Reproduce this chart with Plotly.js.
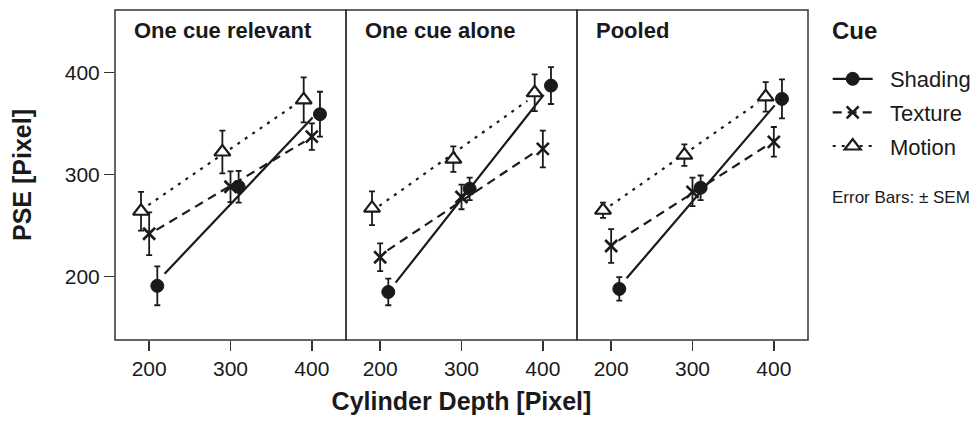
<!DOCTYPE html>
<html>
<head>
<meta charset="utf-8">
<script src="https://cdn.plot.ly/plotly-3.0.1.min.js"></script>
<style>html,body{margin:0;padding:0;background:#fff;}#chart{width:977px;height:424px;}</style>
</head>
<body>
<div id="chart"></div>
<script>
// ---- data ----
const depths = [200, 300, 400];
const cues = ['Shading', 'Texture', 'Motion'];
const panelTitles = ['One cue relevant', 'One cue alone', 'Pooled'];

const relevantShading = [191, 288, 359];
const relevantShadingSEM = [19, 15.5, 22];
const relevantTexture = [242, 288, 337];
const relevantTextureSEM = [21, 15, 13];
const relevantMotion = [264, 322, 373];
const relevantMotionSEM = [19, 21, 22];

const aloneShading = [185, 286, 387];
const aloneShadingSEM = [13, 11, 18];
const aloneTexture = [219, 278, 325];
const aloneTextureSEM = [13.5, 12, 18];
const aloneMotion = [267, 315, 380];
const aloneMotionSEM = [16.5, 12.5, 18];

const pooledShading = [188, 287, 374];
const pooledShadingSEM = [11.5, 12, 19];
const pooledTexture = [230, 283, 332];
const pooledTextureSEM = [16.5, 14, 14.5];
const pooledMotion = [265, 319, 376];
const pooledMotionSEM = [7.5, 10.5, 14.5];

// ---- styles ----
const ink = '#1a1a1a';
const fontFam = '"Liberation Sans", Arial, Helvetica, sans-serif';
const dodge = {Shading: 10, Texture: 0, Motion: -10};
const lineStyle = {
  Shading: {color: ink, width: 2.2, dash: 'solid'},
  Texture: {color: ink, width: 2.2, dash: '9px,6px'},
  Motion:  {color: ink, width: 2.2, dash: '3px,6px'}
};
const markerStyle = {
  Shading: {symbol: 'circle', size: 13, color: ink, line: {color: ink, width: 1}},
  Texture: {symbol: 'x-thin-open', size: 12, color: ink, line: {color: ink, width: 2.6}},
  Motion:  {symbol: 'triangle-up', size: 14, color: '#ffffff', line: {color: ink, width: 2.2}}
};
const gapUnits = 9;
const nb = '\u00a0\u00a0';

const panels = [
  {title: panelTitles[0], xa: 'x',  data: {Shading: [relevantShading, relevantShadingSEM], Texture: [relevantTexture, relevantTextureSEM], Motion: [relevantMotion, relevantMotionSEM]}},
  {title: panelTitles[1], xa: 'x2', data: {Shading: [aloneShading, aloneShadingSEM], Texture: [aloneTexture, aloneTextureSEM], Motion: [aloneMotion, aloneMotionSEM]}},
  {title: panelTitles[2], xa: 'x3', data: {Shading: [pooledShading, pooledShadingSEM], Texture: [pooledTexture, pooledTextureSEM], Motion: [pooledMotion, pooledMotionSEM]}}
];

function fit(xs, ys) {
  const n = xs.length;
  const mx = xs.reduce((a, b) => a + b, 0) / n;
  const my = ys.reduce((a, b) => a + b, 0) / n;
  let sxy = 0, sxx = 0;
  for (let i = 0; i < n; i++) { sxy += (xs[i] - mx) * (ys[i] - my); sxx += (xs[i] - mx) ** 2; }
  const b = sxy / sxx;
  return x => my + b * (x - mx);
}

const traces = [];
panels.forEach(p => {
  cues.forEach(c => {
    const [ys, sem] = p.data[c];
    const xs = depths.map(d => d + dodge[c]);
    const f = fit(xs, ys);
    const x0 = xs[0] + gapUnits, x1 = xs[xs.length - 1] - gapUnits;
    traces.push({
      type: 'scatter', mode: 'lines', x: [x0, x1], y: [f(x0), f(x1)],
      xaxis: p.xa, yaxis: 'y', line: lineStyle[c], showlegend: false, hoverinfo: 'skip'
    });
  });
  cues.forEach(c => {
    const [ys, sem] = p.data[c];
    const xs = depths.map(d => d + dodge[c]);
    traces.push({
      type: 'scatter', mode: 'markers', x: xs, y: ys,
      xaxis: p.xa, yaxis: 'y', marker: markerStyle[c], showlegend: false,
      error_y: {type: 'data', array: sem, visible: true, color: ink, thickness: 1.8, width: 3}
    });
  });
});
// legend entries
cues.forEach(c => {
  traces.push({
    type: 'scatter', mode: 'lines+markers', x: [null], y: [null], name: nb + c, legendgroup: c,
    xaxis: 'x', yaxis: 'y', line: lineStyle[c], marker: markerStyle[c], showlegend: true
  });
});

const xBase = {
  range: [158, 442], tickvals: depths, ticktext: depths.map(String), ticks: 'outside', ticklen: 10, tickwidth: 1.5,
  tickcolor: '#333', showgrid: false, zeroline: false, showline: false, anchor: 'y',
  tickfont: {family: fontFam, size: 21, color: ink}, fixedrange: true
};
const layout = {
  width: 977, height: 424,
  margin: {l: 115, r: 169, t: 10, b: 84, autoexpand: false},
  paper_bgcolor: '#fff', plot_bgcolor: '#fff',
  font: {family: fontFam, color: ink},
  xaxis: Object.assign({}, xBase, {domain: [0, 1/3]}),
  xaxis2: Object.assign({}, xBase, {domain: [1/3, 2/3],
    title: {text: '<b>Cylinder Depth [Pixel]</b>', font: {family: fontFam, size: 25, color: ink}, standoff: 13}}),
  xaxis3: Object.assign({}, xBase, {domain: [2/3, 1]}),
  yaxis: {
    range: [138, 461], tickvals: depths, ticktext: depths.map(String), ticks: 'outside', ticklen: 10, tickwidth: 1.5,
    tickcolor: '#333', showgrid: false, zeroline: false, showline: false,
    tickfont: {family: fontFam, size: 21, color: ink},
    title: {text: '<b>PSE [Pixel]</b>', font: {family: fontFam, size: 25, color: ink}, standoff: 26}
  },
  shapes: ['x', 'x2', 'x3'].map(a => ({
    type: 'rect', xref: a + ' domain', yref: 'y domain', x0: 0, x1: 1, y0: 0, y1: 1,
    line: {color: '#333', width: 1.5}, layer: 'above'
  })),
  annotations: panels.map(p => ({
    xref: p.xa + ' domain', yref: 'y domain', x: 0.072, y: 0.937, xanchor: 'left', yanchor: 'middle',
    text: '<b>' + p.title + '</b>', showarrow: false, font: {family: fontFam, size: 22, color: ink}
  })).concat([{
    xref: 'paper', yref: 'paper', x: 1.0315, y: 0.937, xanchor: 'left', yanchor: 'middle',
    text: '<b>Cue</b>', showarrow: false, font: {family: fontFam, size: 24, color: ink}
  }, {
    xref: 'paper', yref: 'paper', x: 1.0315, y: 0.433, xanchor: 'left', yanchor: 'middle',
    text: 'Error Bars: ± SEM', showarrow: false, font: {family: fontFam, size: 17, color: ink}
  }]),
  legend: {
    x: 1.0284, y: 0.8545, xanchor: 'left', yanchor: 'top', bgcolor: 'rgba(0,0,0,0)',
    font: {family: fontFam, size: 22, color: ink},
    itemwidth: 40, tracegroupgap: 2, traceorder: 'grouped'
  },
  showlegend: true
};

Plotly.newPlot('chart', traces, layout, {staticPlot: true, displayModeBar: false});
</script>
</body>
</html>
